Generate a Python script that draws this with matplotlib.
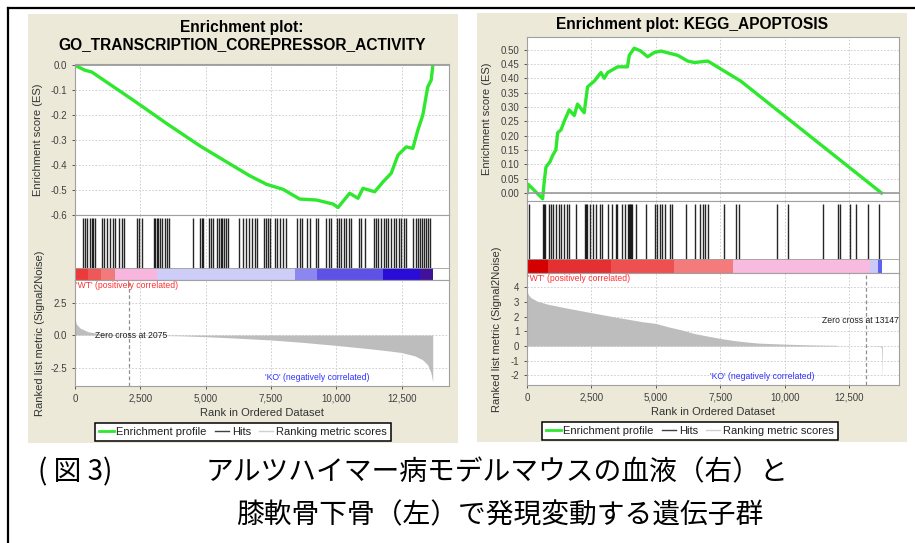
import numpy as np
import matplotlib
matplotlib.use("Agg")
import matplotlib.pyplot as plt
from matplotlib.patches import Rectangle
from matplotlib.lines import Line2D

plt.rcParams['font.family'] = ['Liberation Sans', 'Noto Sans CJK JP', 'DejaVu Sans']

W, H = 915, 543

# ---- left panel: GO_TRANSCRIPTION_COREPRESSOR_ACTIVITY ----
left_title = "Enrichment plot:\nGO_TRANSCRIPTION_COREPRESSOR_ACTIVITY"
left_es_rank = [0, 380, 640, 2230, 3500, 4780, 6050, 6690, 7330, 7960, 8600, 9240,
                9875, 10065, 10510, 10830, 11020, 11470, 11790, 12100, 12360, 12680,
                12930, 13120, 13310, 13500, 13630, 13695]
left_es = [0.0, -0.02, -0.027, -0.14, -0.233, -0.323, -0.403, -0.443, -0.477, -0.497,
           -0.536, -0.54, -0.556, -0.57, -0.513, -0.533, -0.493, -0.507, -0.467, -0.433,
           -0.36, -0.327, -0.333, -0.26, -0.2, -0.087, -0.06, 0.0]
left_hits = [294, 382, 470, 573, 638, 677, 765, 1021, 1109, 1212, 1338, 1441, 1529, 1693,
             1785, 1873, 2382, 2458, 2550, 3020, 3070, 3123, 3184, 3249, 3314, 3440, 3505,
             3605, 4499, 4778, 4855, 4904, 5111, 5187, 5264, 5440, 5505, 5570, 5619, 5696,
             5772, 5837, 6281, 6411, 6537, 6651, 6755, 6881, 6969, 7225, 7301, 7389, 7481,
             7645, 7733, 7836, 7962, 8066, 8498, 8601, 8704, 8880, 9010, 9239, 9316, 9595,
             9721, 9813, 10027, 10103, 10195, 10283, 10386, 10486, 10562, 10868, 10959,
             11086, 11430, 11533, 11594, 11724, 11812, 11888, 11976, 12106, 12194, 12297,
             12397, 12489, 12577, 12680, 12932, 13035, 13123, 13215, 13291, 13368, 13444,
             13520, 13597]
left_metric_rank = [0, 50, 190, 500, 950, 2075, 4000, 5000, 6000, 7500, 8750, 10000,
                    11250, 12000, 12500, 13000, 13300, 13500, 13620, 13690]
left_metric = [1.25, 0.85, 0.54, 0.25, 0.1, 0.0, -0.06, -0.13, -0.22, -0.38, -0.57, -0.8,
               -1.05, -1.22, -1.35, -1.6, -1.9, -2.3, -2.9, -3.6]
left_band_edges = [38, 500, 1000, 1529, 3135, 8410, 9250, 11774, 13188, 13685]
left_band_colors = ['#ec3a3a', '#ef5858', '#f27a7a', '#f8b6de', '#cdcdf8', '#8c86f0',
                    '#5e52e6', '#2a0cd8', '#40129c']
left_zero_cross = 2075

# ---- right panel: KEGG_APOPTOSIS ----
right_title = "Enrichment plot: KEGG_APOPTOSIS"
right_es_rank = [0, 50, 606, 670, 735, 900, 990, 1120, 1190, 1320, 1445, 1640, 1835,
                 1960, 2220, 2350, 2610, 2870, 3000, 3130, 3520, 3900, 3970, 4160, 4420,
                 4680, 4940, 5200, 5850, 6240, 6500, 7020, 7660, 8300, 13760]
right_es = [0.0, 0.03, -0.02, 0.04, 0.09, 0.11, 0.13, 0.15, 0.21, 0.22, 0.25, 0.29, 0.27,
            0.31, 0.28, 0.37, 0.39, 0.42, 0.40, 0.42, 0.44, 0.44, 0.48, 0.505, 0.495,
            0.475, 0.49, 0.495, 0.48, 0.46, 0.455, 0.46, 0.425, 0.39, 0.0]
right_hits = [65, 632, 671, 709, 838, 929, 1019, 1122, 1226, 1316, 1445, 1535, 1638, 1896,
              2257, 2296, 2335, 2438, 2567, 2670, 2825, 2928, 3160, 3315, 3444, 3509, 3676,
              3805, 3934, 3973, 4012, 4051, 4089, 4218, 4605, 4966, 5057, 5147, 5250, 5353,
              5534, 5638, 6180, 6540, 6734, 6823, 6927, 7031, 7663, 8127, 8217, 9702, 10128,
              11506, 12063, 12163, 12539, 12771, 13224, 13661]
right_metric_rank = [0, 50, 150, 400, 800, 1500, 2500, 3500, 4500, 5000, 5500, 6000, 6500,
                     7000, 7500, 8000, 8500, 9000, 10000, 11000, 12030, 12060, 13147, 13700,
                     13760, 13790]
right_metric = [3.75, 3.5, 3.3, 3.05, 2.85, 2.6, 2.27, 1.95, 1.65, 1.54, 1.3, 1.1, 0.85,
                0.68, 0.52, 0.38, 0.28, 0.2, 0.13, 0.08, 0.05, 0.01, 0.0, -0.03, -0.1, -2.25]
right_band_edges = [0, 813, 3250, 5690, 8010, 13310, 13620, 13780]
right_band_colors = ['#d40000', '#e43030', '#ee5050', '#f47b7b', '#f8badf', '#cacaf8',
                     '#6060f0']
right_zero_cross = 13147

x_ticks = [0, 2500, 5000, 7500, 10000, 12500]

BEIGE = '#ece9d8'
GREEN = '#2ee82e'
GRID = dict(color='#c8c8c8', lw=0.6, ls=(0, (2, 2)))
TICKC = '#404040'

fig = plt.figure(figsize=(W / 100, H / 100), dpi=100)
fig.patch.set_facecolor('white')


def box(x0, y0, x1, y1):
    return [x0 / W, 1 - y1 / H, (x1 - x0) / W, (y1 - y0) / H]


def style(ax):
    ax.set_facecolor('white')
    for s in ax.spines.values():
        s.set_color('#a0a0a0')
        s.set_linewidth(0.8)
    ax.tick_params(labelsize=7, colors=TICKC, length=2, width=0.6)
    ax.set_axisbelow(True)


def panel(px, title, title_xy, es_rank, es, es_ylim, es_ticks, es_fmt, hits, m_rank, m,
          m_ylim, m_ticks, m_fmt, edges, colors, zc, xmax, zc_text, ko_pos, lab_x, leg):
    x0, x1, y_top, y_es, y_hit, y_bot = px
    fig.text(title_xy[0] / W, 1 - title_xy[1] / H, title, ha='center', va='center',
             fontsize=11.2, fontweight='bold', linespacing=1.15)

    # enrichment score
    ax1 = fig.add_axes(box(x0, y_top, x1, y_es))
    style(ax1)
    ax1.plot(es_rank, es, color=GREEN, lw=2.4, solid_joinstyle='round')
    ax1.axhline(0, color='#999999', lw=1.2)
    ax1.set_xlim(0, xmax)
    ax1.set_ylim(*es_ylim)
    ax1.set_yticks(es_ticks)
    ax1.set_yticklabels([es_fmt.format(t) for t in es_ticks])
    ax1.set_xticks(x_ticks)
    ax1.tick_params(axis='x', labelbottom=False, length=0)
    ax1.grid(True, **GRID)
    ax1.set_ylabel('Enrichment score (ES)', fontsize=8, color='#333333')
    ax1.yaxis.set_label_coords(-(x0 - lab_x[0]) / (x1 - x0), 0.5)

    # hits + colour band
    ax2 = fig.add_axes(box(x0, y_es, x1, y_hit))
    style(ax2)
    ax2.vlines(hits, 0.19, 0.955, color='black', lw=1.0, alpha=0.85)
    for a, b, c in zip(edges[:-1], edges[1:], colors):
        ax2.add_patch(Rectangle((a, 0), b - a, 0.19, color=c, lw=0))
    ax2.axhline(0.19, color='#a0a0a0', lw=0.6)
    ax2.set_xlim(0, xmax)
    ax2.set_ylim(0, 1)
    ax2.set_yticks([])
    ax2.set_xticks(x_ticks)
    ax2.tick_params(axis='x', labelbottom=False, length=0)
    ax2.grid(True, axis='x', **GRID)

    # ranked list metric
    ax3 = fig.add_axes(box(x0, y_hit, x1, y_bot))
    style(ax3)
    ax3.fill_between(m_rank, m, 0, color='#bdbdbd', lw=0)
    ax3.axvline(zc, color='#909090', lw=0.9, ls=(0, (3, 2)))
    ax3.set_xlim(0, xmax)
    ax3.set_ylim(*m_ylim)
    ax3.set_yticks(m_ticks)
    ax3.set_yticklabels([m_fmt.format(t) for t in m_ticks])
    ax3.set_xticks(x_ticks)
    ax3.set_xticklabels(['{:,}'.format(t) for t in x_ticks])
    ax3.grid(True, **GRID)
    ax3.set_xlabel('Rank in Ordered Dataset', fontsize=8, color='#333333', labelpad=3)
    ax3.set_ylabel('Ranked list metric (Signal2Noise)', fontsize=8, color='#333333')
    ax3.yaxis.set_label_coords(-(x0 - lab_x[1]) / (x1 - x0), 0.5)
    ax3.text(0.004, 0.995, "'WT' (positively correlated)", transform=ax3.transAxes,
             color='#ff3030', fontsize=6.2, va='top', ha='left')
    ax3.text(ko_pos[0], ko_pos[1], "'KO' (negatively correlated)", color='#3030ff',
             fontsize=6.2, va='center', ha='center')
    ax3.text(zc_text[0], zc_text[1], 'Zero cross at {}'.format(zc), fontsize=6.2,
             va='center', ha=zc_text[2], color='#202020')

    handles = [Line2D([], [], color=GREEN, lw=2),
               Line2D([], [], color='#404040', lw=1),
               Line2D([], [], color='#d0d0d0', lw=1)]
    lg = ax3.legend(handles, ['Enrichment profile', 'Hits', 'Ranking metric scores'],
                    loc='center', bbox_to_anchor=(leg[0] / W, 1 - leg[1] / H),
                    bbox_transform=fig.transFigure, ncol=3, fontsize=8,
                    frameon=True, fancybox=False, edgecolor='black', framealpha=1,
                    handlelength=1.3, handletextpad=0.25, columnspacing=0.7,
                    borderpad=0.35, borderaxespad=0)
    lg.get_frame().set_linewidth(1.1)
    for t in lg.get_texts():
        t.set_color('#202020')


# panel backgrounds and outer frame
fig.add_artist(Rectangle((28 / W, 1 - 443 / H), 430 / W, 429 / H,
                         transform=fig.transFigure, color=BEIGE, lw=0, zorder=-10))
fig.add_artist(Rectangle((477 / W, 1 - 442 / H), 430 / W, 429 / H,
                         transform=fig.transFigure, color=BEIGE, lw=0, zorder=-10))
fig.add_artist(Line2D([8 / W, 8 / W], [0, 1 - 8 / H], color='black', lw=1.6,
                      transform=fig.transFigure))
fig.add_artist(Line2D([8 / W, 1], [1 - 8 / H, 1 - 8 / H], color='black', lw=1.6,
                      transform=fig.transFigure))

panel((75, 449, 64, 215, 280, 386), left_title, (242, 36), left_es_rank, left_es,
      (-0.6, 0.005), [0.0, -0.1, -0.2, -0.3, -0.4, -0.5, -0.6], '{:.1f}',
      left_hits, left_metric_rank, left_metric, (-3.92, 4.23), [2.5, 0.0, -2.5], '{:.1f}',
      left_band_edges, left_band_colors, left_zero_cross, 14313,
      (760, 0.0, 'left'), (9275, -3.3), (43, 45), (243, 432))

panel((527, 899, 37, 201, 273, 385), right_title, (692, 25), right_es_rank, right_es,
      (-0.028, 0.544), [0.0, 0.05, 0.1, 0.15, 0.2, 0.25, 0.3, 0.35, 0.4, 0.45, 0.5],
      '{:.2f}', right_hits, right_metric_rank, right_metric, (-2.65, 4.97),
      [4, 3, 2, 1, 0, -1, -2], '{:.0f}', right_band_edges, right_band_colors,
      right_zero_cross, 14440, (14420, 1.77, 'right'), (9150, -2.1), (492, 502),
      (690, 431))

# caption
cap = dict(fontsize=20, family=['Noto Sans CJK JP', 'DejaVu Sans'], va='center',
           color='black')
fig.text(38 / W, 1 - 472 / H, '( 図 3)', ha='left', **cap)
fig.text(497 / W, 1 - 472 / H, 'アルツハイマー病モデルマウスの血液（右）と', ha='center', **cap)
fig.text(500 / W, 1 - 515 / H, '膝軟骨下骨（左）で発現変動する遺伝子群', ha='center', **cap)

fig.savefig('out.png', dpi=100, facecolor='white')
